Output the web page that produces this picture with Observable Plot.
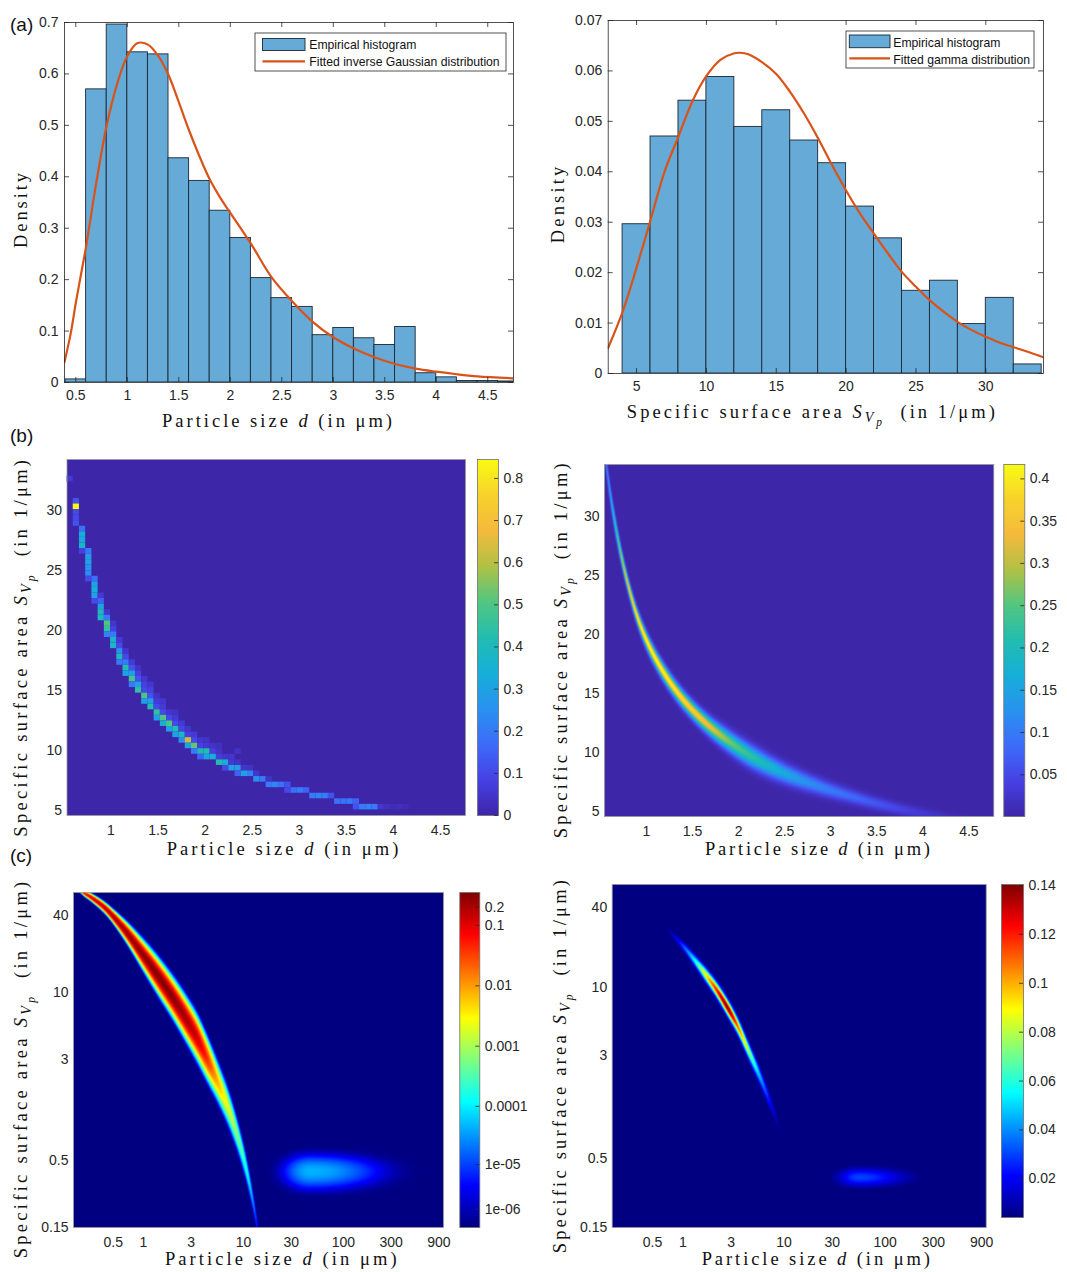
<!DOCTYPE html>
<html><head><meta charset="utf-8">
<script src="https://cdn.jsdelivr.net/npm/d3@7"></script>
<script src="https://cdn.jsdelivr.net/npm/@observablehq/plot@0.6"></script>
<style>
body{margin:0;background:#fff;}
#fig{position:relative;width:1067px;height:1272px;overflow:hidden;background:#fff;}
#fig svg{position:absolute;left:0;top:0;max-width:none;overflow:visible;background:transparent;}
</style></head><body><div id="fig"></div>
<script>
// ---------------- DATA ----------------
// (a) left: histogram of particle size d, bins of width 0.2 starting at 0.4
const aBinLo = 0.4, aBinW = 0.2;
const aHeights = [0.006,0.570,0.696,0.642,0.638,0.436,0.392,0.334,0.281,0.203,0.164,0.147,0.092,0.106,0.086,0.073,0.108,0.018,0.010,0.003,0.003,0.002];
const igD = [0.39,0.45,0.5,0.55,0.6,0.7,0.8,0.9,1.0,1.1,1.2,1.3,1.4,1.5,1.6,1.7,1.8,1.9,2.0,2.2,2.4,2.6,2.8,3.0,3.2,3.4,3.6,3.8,4.0,4.2,4.4,4.75];
const igY = [0.040,0.095,0.155,0.21,0.265,0.39,0.50,0.58,0.635,0.66,0.657,0.635,0.598,0.545,0.49,0.44,0.395,0.36,0.33,0.27,0.205,0.158,0.118,0.088,0.066,0.049,0.036,0.027,0.021,0.016,0.012,0.008];
const aXTicks = [0.5,1,1.5,2,2.5,3,3.5,4,4.5];
const aYTicks = [0,0.1,0.2,0.3,0.4,0.5,0.6,0.7];

// (a) right: histogram of specific surface area, bins of width 2 starting at 4
const gBinLo = 4, gBinW = 2;
const gHeights = [0.0296,0.0470,0.0541,0.0588,0.0489,0.0522,0.0462,0.0417,0.0331,0.0268,0.0164,0.0184,0.0098,0.0150,0.0018];
const gmS = [2.97,4,5,6,7,8,9,10,11,12,12.4,13,14,15,16,17,18,19,20,21,22,23,24,25,26,27,28,29,30,31,32,33,34.13];
const gmY = [0.0051,0.0122,0.021,0.0304,0.040,0.047,0.054,0.059,0.0622,0.0635,0.0636,0.0633,0.0617,0.0594,0.0558,0.0515,0.0466,0.0413,0.0363,0.0317,0.0277,0.0238,0.0201,0.0172,0.0145,0.0122,0.0102,0.0086,0.0073,0.0061,0.0052,0.0043,0.0032];
const gXTicks = [5,10,15,20,25,30];
const gYTicks = [0,0.01,0.02,0.03,0.04,0.05,0.06,0.07];

// (b) left: 2D empirical histogram, 64x64 grid; cells [column, row, density]
const bGridD0 = 0.533, bGridDW = 0.0661, bGridS0 = 4.58, bGridSW = 0.4636;
const cellsB = [
 [0,60,.06],
 [1,56,.12],[1,55,.84],[1,54,.10],[1,53,.10],[1,52,.12],
 [2,51,.18],[2,50,.33],[2,49,.32],[2,48,.37],[2,47,.08],
 [3,47,.20],[3,46,.28],[3,45,.30],[3,44,.26],[3,43,.24],[3,42,.10],
 [4,42,.18],[4,41,.30],[4,40,.33],[4,39,.30],[4,38,.10],
 [5,39,.06],[5,38,.15],[5,37,.30],[5,36,.40],[5,35,.38],
 [6,36,.05],[6,35,.20],[6,34,.50],[6,33,.45],[6,32,.22],
 [7,34,.05],[7,33,.08],[7,32,.20],[7,31,.36],[7,30,.38],
 [8,31,.06],[8,30,.10],[8,29,.25],[8,28,.40],[8,27,.20],
 [9,29,.05],[9,28,.10],[9,27,.20],[9,26,.42],[9,25,.30],
 [10,27,.06],[10,26,.12],[10,25,.30],[10,24,.48],[10,23,.20],
 [11,26,.04],[11,25,.08],[11,24,.12],[11,23,.30],[11,22,.45],
 [12,24,.05],[12,23,.08],[12,22,.10],[12,21,.50],[12,20,.30],
 [13,23,.05],[13,22,.08],[13,21,.12],[13,20,.30],[13,19,.42],
 [14,21,.04],[14,20,.07],[14,19,.10],[14,18,.45],[14,17,.30],
 [15,20,.05],[15,19,.06],[15,18,.10],[15,17,.50],[15,16,.35],
 [16,18,.05],[16,17,.10],[16,16,.50],[16,15,.30],
 [17,18,.04],[17,17,.06],[17,16,.10],[17,15,.42],[17,14,.30],
 [18,16,.06],[18,15,.09],[18,14,.38],[18,13,.25],
 [19,15,.05],[19,14,.08],[19,13,.62],[19,12,.30],
 [20,14,.06],[20,13,.10],[20,12,.52],[20,11,.20],
 [21,13,.05],[21,12,.08],[21,11,.40],[21,10,.15],
 [22,13,.04],[22,12,.06],[22,11,.42],[22,10,.30],
 [23,12,.04],[23,11,.08],[23,10,.35],
 [24,12,.03],[24,11,.04],[24,10,.07],[24,9,.42],
 [25,10,.05],[25,9,.35],[25,8,.10],
 [26,10,.05],[26,9,.06],[26,8,.30],
 [27,11,.04],[27,9,.04],[27,8,.28],[27,7,.15],
 [28,8,.05],[28,7,.30],
 [29,8,.04],[29,7,.22],
 [30,7,.05],[30,6,.25],
 [31,6,.20],
 [32,6,.04],[32,5,.20],
 [33,5,.22],[34,5,.18],[35,5,.12],[35,4,.10],
 [36,4,.18],[37,4,.20],[38,4,.15],
 [39,3,.20],[40,3,.22],[41,3,.20],[42,3,.12],
 [43,2,.18],[44,2,.18],[45,2,.20],[46,2,.15],[46,1,.12],
 [47,1,.20],[48,1,.22],[49,1,.20],[50,1,.05],[51,1,.03],[52,1,.02],[53,1,.03],[54,1,.02]
];
const bXTicks = [1,1.5,2,2.5,3,3.5,4,4.5];
const bYTicks = [5,10,15,20,25,30];
const cbB1Ticks = [0,0.1,0.2,0.3,0.4,0.5,0.6,0.7,0.8];

// (b) right: fitted joint density, ridge
const bRidgeD    = [0.545,0.555,0.59,0.63,0.67,0.72,0.8,0.9,1.0,1.2,1.45,1.7,1.9,2.15,2.5,2.8,3.2,3.55,3.9,4.2,4.5,4.77];
const bRidgeS    = [35.5,34.9,32.8,30.7,28.9,26.9,24.2,21.5,19.5,16.6,14.0,12.1,10.9,9.6,8.2,7.3,6.3,5.55,4.95,4.6,4.3,4.05];
const bRidgePeak = [0.07,0.08,0.12,0.17,0.22,0.28,0.35,0.40,0.415,0.41,0.38,0.33,0.27,0.22,0.16,0.12,0.085,0.06,0.035,0.018,0.006,0.002];
const bRidgeSig  = [0.55,0.55,0.55,0.52,0.50,0.46,0.42,0.42,0.44,0.45,0.46,0.50,0.56,0.60,0.55,0.48,0.40,0.36,0.33,0.30,0.30,0.30];
const cbB2Ticks = [0.05,0.1,0.15,0.2,0.25,0.3,0.35,0.4];

// (c) left: log-log joint density (log colour scale)
const cLRidgeD    = [0.22,0.25,0.3,0.4,0.5,0.7,1.0,1.4,2.0,2.8,3.5,4.4,5.5,7.0,8.5,10,11.5,13,14.5];
const cLRidgeS    = [65,60,55,46.5,39,28.5,19.5,13.5,9.0,5.9,4.35,3.0,2.05,1.3,0.83,0.53,0.33,0.2,0.12];
const cLRidgePeak = [0.03,0.05,0.1,0.15,0.2,0.25,0.3,0.33,0.3,0.2,0.12,0.04,0.008,0.002,7e-4,2.5e-4,8e-5,1.5e-5,2e-6];
const cLRidgeSig  = [0.005,0.0065,0.0083,0.011,0.014,0.021,0.029,0.035,0.039,0.043,0.045,0.045,0.044,0.043,0.040,0.037,0.034,0.031,0.030];
const cLBlob = {d: 47, s: 0.41, peak: 4.5e-5, sL: 0.12, sR: 0.30, sU: 0.055, sD: 0.06};
// (c) right: log-log joint density (linear colour scale)
const cRRidgeD    = [0.6,0.75,1.0,1.12,1.4,1.63,2.14,2.79,3.51,4.42,5.56,7.0,8.8,10.5];
const cRRidgeS    = [31.5,26,20.5,18.5,14.9,12.8,9.6,6.9,5.0,3.35,2.25,1.45,0.9,0.57];
const cRRidgePeak = [0.002,0.01,0.03,0.04,0.065,0.088,0.12,0.14,0.11,0.08,0.05,0.025,0.008,0.002];
const cRRidgeSig  = [0.017,0.02,0.025,0.027,0.031,0.034,0.037,0.039,0.04,0.041,0.043,0.045,0.045,0.045];
const cRBlob = {d: 55, s: 0.36, peak: 0.03, sL: 0.15, sR: 0.33, sU: 0.05, sD: 0.05};
const cXTicks = [0.5,1,3,10,30,100,300,900];
const cYTicks = [0.15,0.5,3,10,40];
const cbC1Ticks = [1e-6,1e-5,1e-4,0.001,0.01,0.1,0.2];
const cbC1Labels = ["1e-06","1e-05","0.0001","0.001","0.01","0.1","0.2"];
const cbC2Ticks = [0.02,0.04,0.06,0.08,0.1,0.12,0.14];

// ---------------- STYLE / HELPERS ----------------
const W = 1067, H = 1272;
const FIG = document.getElementById("fig");
const SANS = "'Liberation Sans', Arial, Helvetica, sans-serif";
const SERIF = "'Liberation Serif', 'DejaVu Serif', 'Times New Roman', serif";
const INK = "#262626";
const FS = 14;
const BAR = "#66aad7", BAR_EDGE = "#1b2733", RED = "#d95319";
const PARULA = ["#3e26a8","#4641e4","#3d6cf9","#2992f0","#16afd9","#22bdb0","#52c681","#b0c145","#f4ba3c","#f7d22b","#f9fb14"];
const parula = d3.piecewise(d3.interpolateRgb, PARULA);
const jet = t => { const c = v => Math.max(0, Math.min(1, v)) * 255;
  return d3.rgb(c(1.5 - Math.abs(4*t - 3)), c(1.5 - Math.abs(4*t - 2)), c(1.5 - Math.abs(4*t - 1))).formatHex(); };
const fmt = d => String(+d.toFixed(3));

function base(frame) {
  const [x0, y0, x1, y1] = frame;
  return {width: W, height: H, marginLeft: x0, marginTop: y0, marginRight: W - x1, marginBottom: H - y1,
    style: {background: "transparent", fontFamily: SANS, fontSize: FS + "px", color: INK, overflow: "visible"}};
}
function inward(frame, xt, yt, len = 5) {
  const fw = frame[2] - frame[0], fh = frame[3] - frame[1];
  const o = {stroke: INK, strokeWidth: 0.8};
  return [
    Plot.tickX(xt, {x: d => d, insetTop: fh - len, ...o}),
    Plot.tickX(xt, {x: d => d, insetBottom: fh - len, ...o}),
    Plot.tickY(yt, {y: d => d, insetRight: fw - len, ...o}),
    Plot.tickY(yt, {y: d => d, insetLeft: fw - len, ...o})
  ];
}
// tick labels drawn as text marks at the frame edges (keeps every label on log axes)
function xLabels(ticks, tf, pad) {
  return Plot.text(ticks, {x: d => d, text: tf, frameAnchor: "bottom", lineAnchor: "top", dy: pad, fontSize: FS, fill: INK});
}
function yLabels(ticks, tf, pad) {
  return Plot.text(ticks, {y: d => d, text: tf, frameAnchor: "left", textAnchor: "end", dx: -pad, fontSize: FS, fill: INK});
}
function mount(el) { FIG.appendChild(el); }

// smooth (cubic Hermite) interpolation through the read stations
function herm(X, Y, x) {
  const n = X.length;
  const k = Math.min(Math.max(d3.bisectRight(X, x) - 1, 0), n - 2);
  const h = X[k + 1] - X[k], t = (x - X[k]) / h;
  const m = i => i === 0 ? (Y[1] - Y[0]) / (X[1] - X[0])
    : i === n - 1 ? (Y[n - 1] - Y[n - 2]) / (X[n - 1] - X[n - 2])
    : (Y[i + 1] - Y[i - 1]) / (X[i + 1] - X[i - 1]);
  const t2 = t * t, t3 = t2 * t;
  return (2*t3 - 3*t2 + 1) * Y[k] + (t3 - 2*t2 + t) * h * m(k) + (-2*t3 + 3*t2) * Y[k + 1] + (t3 - t2) * h * m(k + 1);
}
function makeRidge(D, S, P, G, logMode) {
  const X = D.map(Math.log), YS = S.map(Math.log), YP = logMode ? P.map(Math.log) : P;
  let lastD = NaN, par = null;
  return (d, s) => {
    if (d < D[0] || d > D[D.length - 1]) return 0;
    if (d !== lastD) {
      const x = Math.log(d);
      par = [Math.exp(herm(X, YS, x)),
             logMode ? Math.exp(herm(X, YP, x)) : Math.max(0, herm(X, YP, x)),
             Math.max(1e-4, herm(X, G, x))];
      lastD = d;
    }
    const z = logMode ? (Math.log10(s) - Math.log10(par[0])) / par[2] : (s - par[0]) / par[2];
    return par[1] * Math.exp(-0.5 * z * z);
  };
}
function blob(B, d, s) {
  const zx = Math.log10(d / B.d) / (d < B.d ? B.sL : B.sR);
  const zy = Math.log10(s / B.s) / (s > B.s ? B.sU : B.sD);
  return B.peak * Math.exp(-0.5 * (zx * zx + zy * zy));
}

function colorbar(frame, color, ticks, tf) {
  const bw = frame[2] - frame[0];
  const y = {type: color.type, domain: color.domain, axis: null};
  if (color.constant) y.constant = color.constant;
  return Plot.plot({
    ...base(frame),
    x: {domain: [0, 1], axis: null},
    y,
    color,
    marks: [
      Plot.raster({x1: 0, x2: 1, y1: color.domain[0], y2: color.domain[1], fill: (a, b) => b, pixelSize: 1}),
      Plot.frame({stroke: "#707070", strokeWidth: 0.8}),
      Plot.tickY(ticks, {y: d => d, insetLeft: bw - 4, stroke: INK, strokeWidth: 0.8}),
      Plot.text(ticks, {y: d => d, text: tf, frameAnchor: "right", textAnchor: "start", dx: 5, fontSize: FS, fill: INK})
    ]
  });
}

// ---------------- (a) left ----------------
const frameA1 = [64, 22, 513, 382];
const histA = aHeights.map((h, k) => ({x1: aBinLo + k * aBinW, x2: aBinLo + (k + 1) * aBinW, h}));
const curveA = igD.map((x, k) => ({x, y: igY[k]}));
mount(Plot.plot({
  ...base(frameA1),
  x: {domain: [0.39, 4.75], axis: null}, y: {domain: [0, 0.7], axis: null},
  marks: [
    Plot.rect(histA, {x1: "x1", x2: "x2", y1: 0, y2: "h", fill: BAR, stroke: BAR_EDGE, strokeWidth: 0.9, clip: true}),
    Plot.line(curveA, {x: "x", y: "y", stroke: RED, strokeWidth: 2.2, curve: "catmull-rom", clip: true}),
    Plot.frame({stroke: INK, strokeWidth: 0.8}),
    ...inward(frameA1, aXTicks, aYTicks),
    xLabels(aXTicks, fmt, 8),
    yLabels(aYTicks, fmt, 6)
  ]
}));

// ---------------- (a) right ----------------
const frameA2 = [607.7, 20, 1043, 373];
const histG = gHeights.map((h, k) => ({x1: gBinLo + k * gBinW, x2: gBinLo + (k + 1) * gBinW, h}));
const curveG = gmS.map((x, k) => ({x, y: gmY[k]}));
mount(Plot.plot({
  ...base(frameA2),
  x: {domain: [2.97, 34.13], axis: null}, y: {domain: [0, 0.07], axis: null},
  marks: [
    Plot.rect(histG, {x1: "x1", x2: "x2", y1: 0, y2: "h", fill: BAR, stroke: BAR_EDGE, strokeWidth: 0.9, clip: true}),
    Plot.line(curveG, {x: "x", y: "y", stroke: RED, strokeWidth: 2.2, curve: "catmull-rom", clip: true}),
    Plot.frame({stroke: INK, strokeWidth: 0.8}),
    ...inward(frameA2, gXTicks, gYTicks),
    xLabels(gXTicks, fmt, 8),
    yLabels(gYTicks, fmt, 6)
  ]
}));

// ---------------- (b) left ----------------
const frameB1 = [66.5, 459, 465, 815];
const colorB1 = {type: "linear", domain: [0, 0.845], interpolate: parula, clamp: true};
const rectsB = cellsB.map(([i, j, v]) => ({
  x1: bGridD0 + i * bGridDW, x2: bGridD0 + (i + 1) * bGridDW,
  y1: bGridS0 + j * bGridSW, y2: bGridS0 + (j + 1) * bGridSW, v}));
mount(Plot.plot({
  ...base(frameB1),
  x: {domain: [0.533, 4.765], axis: null}, y: {domain: [4.58, 34.25], axis: null},
  color: colorB1,
  marks: [
    Plot.frame({fill: parula(0), stroke: null}),
    Plot.rect(rectsB, {x1: "x1", x2: "x2", y1: "y1", y2: "y2", fill: "v"}),
    Plot.frame({stroke: "#9a9a9a", strokeWidth: 0.8}),
    xLabels(bXTicks, fmt, 10),
    yLabels(bYTicks, fmt, 5)
  ]
}));
mount(colorbar([477, 459, 498, 815], colorB1, cbB1Ticks, fmt));

// ---------------- (b) right ----------------
const frameB2 = [604, 464, 993.3, 816];
const colorB2 = {type: "linear", domain: [0.0007, 0.417], interpolate: parula, clamp: true};
const fieldB2 = makeRidge(bRidgeD, bRidgeS, bRidgePeak, bRidgeSig, false);
mount(Plot.plot({
  ...base(frameB2),
  x: {domain: [0.545, 4.77], axis: null}, y: {domain: [4.55, 34.4], axis: null},
  color: colorB2,
  marks: [
    Plot.raster({x1: 0.545, x2: 4.77, y1: 4.55, y2: 34.4, pixelSize: 1, fill: (d, s) => fieldB2(d, s)}),
    Plot.frame({stroke: "#9a9a9a", strokeWidth: 0.8}),
    xLabels(bXTicks, fmt, 10),
    yLabels(bYTicks, fmt, 5)
  ]
}));
mount(colorbar([1003.3, 464, 1024.3, 816], colorB2, cbB2Ticks, fmt));

// ---------------- (c) left ----------------
const frameC1 = [73, 892, 443, 1227];
const colorC1 = {type: "symlog", constant: 1e-6, domain: [0, 0.35], interpolate: jet, clamp: true};
const ridgeC1 = makeRidge(cLRidgeD, cLRidgeS, cLRidgePeak, cLRidgeSig, true);
mount(Plot.plot({
  ...base(frameC1),
  x: {type: "log", domain: [0.2, 1000], axis: null}, y: {type: "log", domain: [0.15, 60], axis: null},
  color: colorC1,
  marks: [
    Plot.raster({x1: 0.2, x2: 1000, y1: 0.15, y2: 60, pixelSize: 1,
      fill: (d, s) => ridgeC1(d, s) + blob(cLBlob, d, s)}),
    Plot.frame({stroke: "#9a9a9a", strokeWidth: 0.8}),
    xLabels(cXTicks, d => String(d), 10),
    yLabels(cYTicks, d => String(d), 5)
  ]
}));
const c1Map = new Map(cbC1Ticks.map((t, k) => [t, cbC1Labels[k]]));
mount(colorbar([459.3, 892, 479.3, 1227], colorC1, cbC1Ticks, d => c1Map.get(d) ?? String(d)));

// ---------------- (c) right ----------------
const frameC2 = [611.7, 884, 985.7, 1227];
const colorC2 = {type: "linear", domain: [0.0042, 0.1404], interpolate: jet, clamp: true};
const ridgeC2 = makeRidge(cRRidgeD, cRRidgeS, cRRidgePeak, cRRidgeSig, true);
mount(Plot.plot({
  ...base(frameC2),
  x: {type: "log", domain: [0.2, 1000], axis: null}, y: {type: "log", domain: [0.15, 60], axis: null},
  color: colorC2,
  marks: [
    Plot.raster({x1: 0.2, x2: 1000, y1: 0.15, y2: 60, pixelSize: 1,
      fill: (d, s) => ridgeC2(d, s) + blob(cRBlob, d, s)}),
    Plot.frame({stroke: "#9a9a9a", strokeWidth: 0.8}),
    xLabels(cXTicks, d => String(d), 10),
    yLabels(cYTicks, d => String(d), 5)
  ]
}));
mount(colorbar([1001, 884, 1023, 1217], colorC2, cbC2Ticks, fmt));

// ---------------- overlay text: labels, panel letters, legends ----------------
const ov = d3.select(FIG).append("svg").attr("width", W).attr("height", H).attr("viewBox", `0 0 ${W} ${H}`);
function addLabel(parts, o) {
  const size = o.size || 18.5;
  const t = ov.append("text").attr("font-family", SERIF).attr("font-size", size).attr("fill", "#111")
    .style("white-space", "pre");
  if (o.rotate) t.attr("transform", `translate(${o.x},${o.y}) rotate(-90)`).attr("x", -o.length / 2).attr("y", 0);
  else t.attr("x", o.x - o.length / 2).attr("y", o.y);
  let shift = 0;
  for (const p of parts) {
    const sp = typeof p === "string" ? {t: p} : p;
    const ts = t.append("tspan").text(sp.t);
    if (sp.it) ts.attr("font-style", "italic");
    const sz = sp.sub === 1 ? size * 0.76 : sp.sub === 2 ? size * 0.62 : size;
    ts.attr("font-size", sz);
    const target = sp.sub === 1 ? size * 0.22 : sp.sub === 2 ? size * 0.42 : 0;
    if (target !== shift) { ts.attr("dy", target - shift); shift = target; }
  }
  t.attr("textLength", o.length).attr("lengthAdjust", "spacing");
}
const DLABEL = ["Particle size ", {t: "d", it: true}, " (in μm)"];
const SLABEL = ["Specific surface area ", {t: "S", it: true}, {t: "V", it: true, sub: 1}, {t: "p", it: true, sub: 2}, "  (in 1/μm)"];
addLabel(DLABEL, {x: 277, y: 427, length: 230});
addLabel(["Density"], {x: 27, y: 210.5, rotate: true, length: 75});
addLabel(SLABEL, {x: 810.8, y: 418, length: 368});
addLabel(["Density"], {x: 563.5, y: 205, rotate: true, length: 76.6});
addLabel(DLABEL, {x: 282.5, y: 855, length: 231.6});
addLabel(SLABEL, {x: 27, y: 648.3, rotate: true, length: 376.7});
addLabel(DLABEL, {x: 817.5, y: 855, length: 225});
addLabel(SLABEL, {x: 566.5, y: 650.8, rotate: true, length: 375});
addLabel(DLABEL, {x: 280.8, y: 1265, length: 231.7});
addLabel(SLABEL, {x: 27, y: 1070, rotate: true, length: 376.6});
addLabel(DLABEL, {x: 815.8, y: 1265, length: 228.3});
addLabel(SLABEL, {x: 565.5, y: 1066.7, rotate: true, length: 373.3});

for (const [txt, y] of [["(a)", 31], ["(b)", 442], ["(c)", 862]]) {
  ov.append("text").attr("x", 10).attr("y", y).attr("font-family", SANS).attr("font-size", 19).attr("fill", "#111").text(txt);
}
function legend(box, patch, lineY, textX, texts) {
  ov.append("rect").attr("x", box[0]).attr("y", box[1]).attr("width", box[2]).attr("height", box[3])
    .attr("fill", "#fff").attr("stroke", INK).attr("stroke-width", 0.8);
  ov.append("rect").attr("x", patch[0]).attr("y", patch[1]).attr("width", patch[2]).attr("height", patch[3])
    .attr("fill", BAR).attr("stroke", BAR_EDGE).attr("stroke-width", 0.9);
  ov.append("line").attr("x1", patch[0]).attr("x2", patch[0] + patch[2]).attr("y1", lineY).attr("y2", lineY)
    .attr("stroke", RED).attr("stroke-width", 2.2);
  texts.forEach(([s, y]) => ov.append("text").attr("x", textX).attr("y", y).attr("font-family", SANS)
    .attr("font-size", 12.2).attr("fill", "#111").text(s));
}
legend([255, 33, 251, 38], [262.5, 38.5, 42.5, 12], 61.3, 309.3,
  [["Empirical histogram", 49], ["Fitted inverse Gaussian distribution", 65.8]]);
legend([846, 31, 188, 37], [849.3, 35, 40.7, 12.7], 58.3, 893.3,
  [["Empirical histogram", 47], ["Fitted gamma distribution", 63.6]]);
</script></body></html>
